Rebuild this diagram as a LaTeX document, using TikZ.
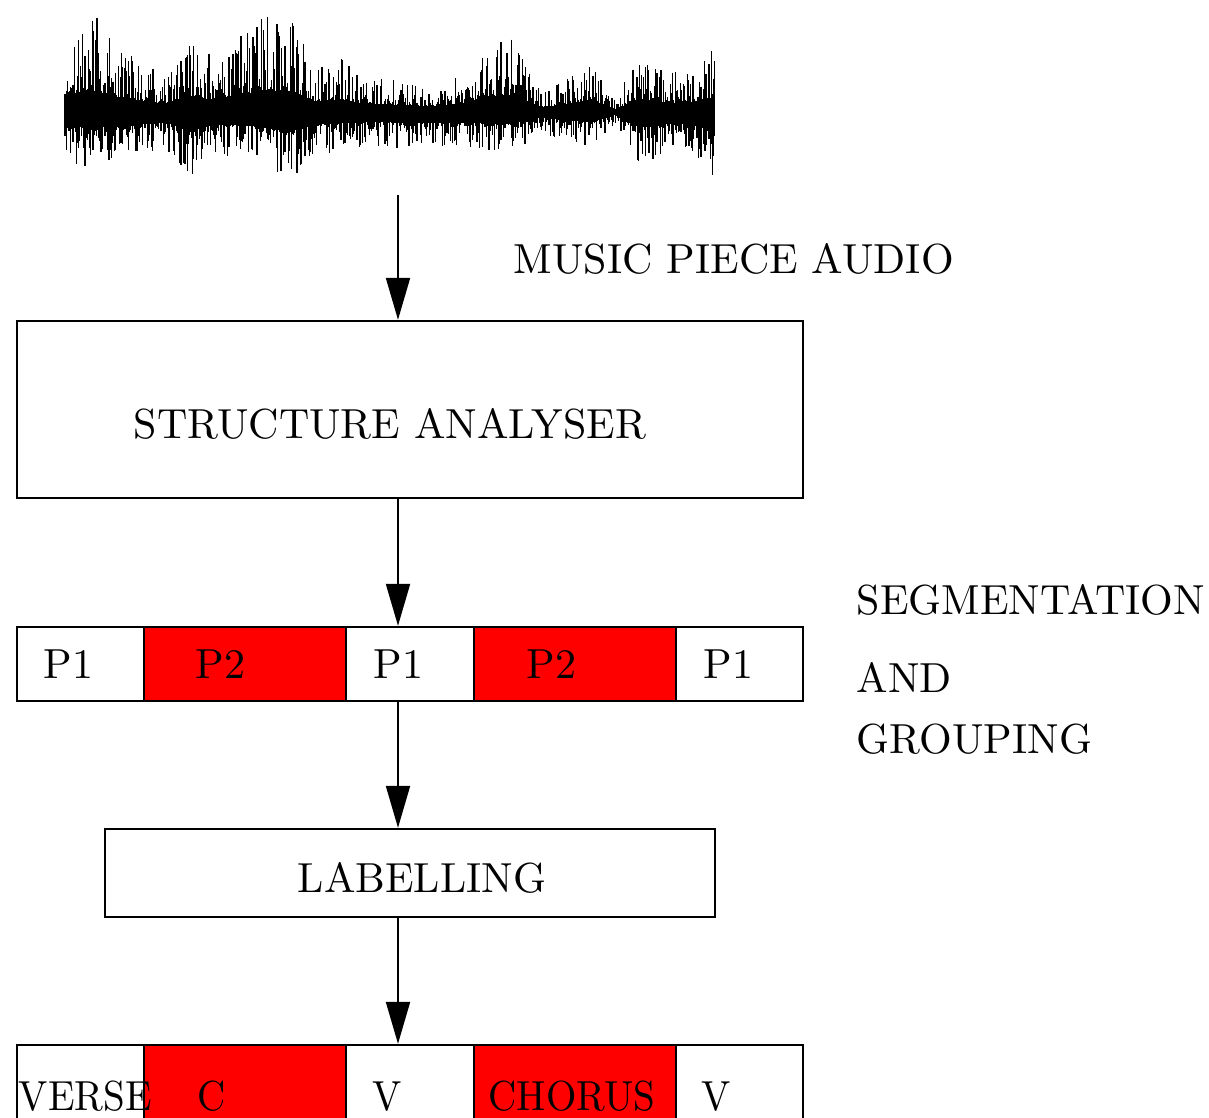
\documentclass[tikz,border=0pt]{standalone}
\usetikzlibrary{arrows.meta}
\tikzset{
  lbl/.style={font=\fontsize{10.5}{12.6}\selectfont, inner sep=0pt, anchor=base west},
  narrowlbl/.style={lbl, xscale=0.93, transform shape},
  frame/.style={draw=black, line width=0.6pt, inner sep=0pt},
  cellw/.style={frame, fill=white},
  cellr/.style={frame, fill=red},
  flow/.style={line width=0.5pt, -{Triangle[length=10.5pt,width=6pt]}},
  wave/.style={line width=0.3pt, black},
}
\begin{document}
\begin{tikzpicture}[x=0.25pt,y=-0.25pt]
\useasboundingbox (0,0) rectangle (1209,1117);
\clip (0,0) rectangle (1209,1117);

% ---- audio waveform: random spikes under piecewise-linear envelopes ----
% upper and lower envelopes, one value every 25 units from x=65
\def\envup{{70,104,68,52,38,70,55,80,96,97,45,58,38,34,28,25,40,74,78,22,33,58,14,60,42,45,69,69}}
\def\envdn{{55,55,55,45,35,70,45,45,55,70,45,40,35,35,40,35,38,42,40,20,30,35,12,55,40,45,68,68}}
\pgfmathsetseed{4242}
\foreach \x in {65,65.8,...,715}{
  \pgfmathsetmacro\t{(\x-65)/25}
  \pgfmathtruncatemacro\i{floor(\t)}
  \pgfmathsetmacro\f{\t-\i}
  \pgfmathtruncatemacro\j{\i+1}
  \pgfmathsetmacro\ua{\envup[\i]}
  \pgfmathsetmacro\ub{\envup[\j]}
  \pgfmathsetmacro\da{\envdn[\i]}
  \pgfmathsetmacro\db{\envdn[\j]}
  \pgfmathsetmacro\eu{\ua+(\ub-\ua)*\f}
  \pgfmathsetmacro\ed{\da+(\db-\da)*\f}
  \pgfmathsetmacro\up{\eu*(0.22+0.78*pow(rnd,2.6))}
  \pgfmathsetmacro\dn{\ed*(0.28+0.72*pow(rnd,2.6))}
  \draw[wave] (\x,112-\up) -- (\x,112+\dn);
}

% ---- axis of the flow and start point under the waveform ----
\coordinate (axis) at (398,0);
\coordinate (audio) at (398,195);

\node[lbl] (audiotxt) at (513,273) {MUSIC PIECE AUDIO};

% ---- structure analyser ----
\node[frame, minimum width=196.5pt, minimum height=44.25pt] (analyser) at (410,409.5) {};
\node[lbl] (analysertxt) at (133,438) {STRUCTURE ANALYSER};

% ---- segmentation row ----
\node[cellw, minimum width=31.75pt, minimum height=18.5pt] (p1) at (80.5,664) {};
\node[cellr, minimum width=50.5pt,  minimum height=18.5pt] (p2) at (245,664) {};
\node[cellw, minimum width=32pt,    minimum height=18.5pt] (p3) at (410,664) {};
\node[cellr, minimum width=50.5pt,  minimum height=18.5pt] (p4) at (575,664) {};
\node[cellw, minimum width=31.75pt, minimum height=18.5pt] (p5) at (739.5,664) {};
\node[lbl] (p1txt) at (43,678) {P1};
\node[lbl] (p2txt) at (195,678) {P2};
\node[lbl] (p3txt) at (373,678) {P1};
\node[lbl] (p4txt) at (526,678) {P2};
\node[lbl] (p5txt) at (703,678) {P1};

\node[lbl] (segtxt) at (856,614) {SEGMENTATION};
\node[lbl] (andtxt) at (856,692) {AND};
\node[lbl] (grptxt) at (856,753) {GROUPING};

% ---- labelling ----
\node[frame, minimum width=152.5pt, minimum height=22pt] (labelling) at (410,873) {};
\node[lbl] (labellingtxt) at (297,892) {LABELLING};

% ---- labelled row ----
\node[cellw, minimum width=31.75pt, minimum height=23.75pt] (v1) at (80.5,1092.5) {};
\node[cellr, minimum width=50.5pt,  minimum height=23.75pt] (v2) at (245,1092.5) {};
\node[cellw, minimum width=32pt,    minimum height=23.75pt] (v3) at (410,1092.5) {};
\node[cellr, minimum width=50.5pt,  minimum height=23.75pt] (v4) at (575,1092.5) {};
\node[cellw, minimum width=31.75pt, minimum height=23.75pt] (v5) at (739.5,1092.5) {};
\node[narrowlbl] (v1txt) at (18,1110) {VERSE};
\node[narrowlbl] (v2txt) at (197,1110) {C};
\node[narrowlbl] (v3txt) at (372,1110) {V};
\node[narrowlbl] (v4txt) at (488,1110) {CHORUS};
\node[narrowlbl] (v5txt) at (701,1110) {V};

% ---- flow arrows ----
\draw[flow] (audio) -- (analyser.north -| axis);
\draw[flow] (analyser.south -| axis) -- (p3.north -| axis);
\draw[flow] (p3.south -| axis) -- (labelling.north -| axis);
\draw[flow] (labelling.south -| axis) -- (v3.north -| axis);
\end{tikzpicture}
\end{document}
